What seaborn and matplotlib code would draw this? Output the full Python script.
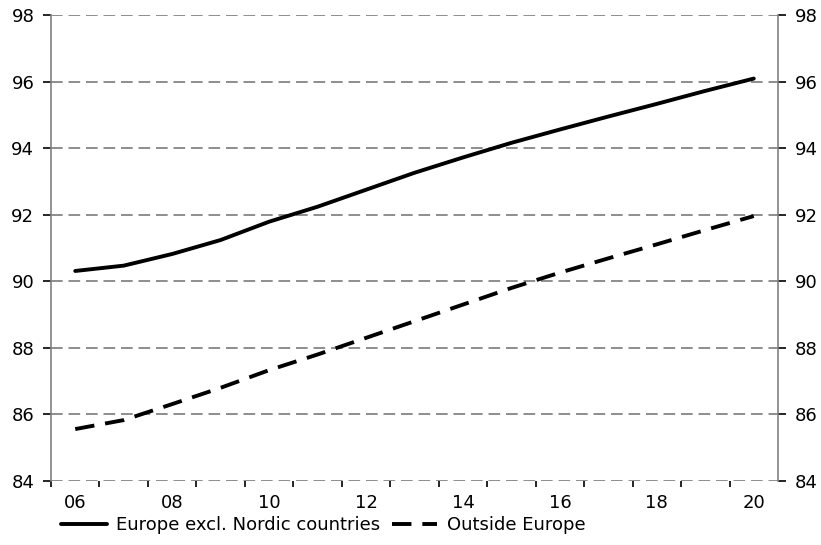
import matplotlib
matplotlib.use("Agg")
import matplotlib.pyplot as plt
import seaborn as sns
import pandas as pd
from matplotlib.lines import Line2D

years = list(range(2006, 2021))
europe_excl_nordic = [90.31, 90.47, 90.82, 91.24, 91.79, 92.24, 92.75, 93.26, 93.72,
                      94.16, 94.56, 94.95, 95.33, 95.72, 96.09]
outside_europe = [85.56, 85.83, 86.31, 86.80, 87.33, 87.80, 88.30, 88.80, 89.30,
                  89.80, 90.26, 90.69, 91.11, 91.54, 91.96]
series_names = ["Europe excl. Nordic countries", "Outside Europe"]
y_ticks = [84, 86, 88, 90, 92, 94, 96, 98]
x_label_years = [2006, 2008, 2010, 2012, 2014, 2016, 2018, 2020]

df = pd.DataFrame({
    "year": years * 2,
    "value": europe_excl_nordic + outside_europe,
    "series": [series_names[0]] * len(years) + [series_names[1]] * len(years),
})

sns.set_theme(style="ticks")
plt.rcParams["font.family"] = ["DejaVu Sans"]
plt.rcParams["text.color"] = "black"
plt.rcParams["xtick.color"] = "black"
plt.rcParams["ytick.color"] = "black"

FS = 13
LW = 2.8
DASH = (5, 2.8)

fig = plt.figure(figsize=(8.21, 5.45), dpi=100)
ax = fig.add_axes([51 / 821, 1 - 481 / 545, 727 / 821, 466 / 545])

sns.lineplot(data=df, x="year", y="value", hue="series", style="series",
             palette=["black", "black"], dashes=[(None, None), DASH],
             linewidth=LW, ax=ax, legend=False)

ax.set_xlim(2005.5, 2020.5)
ax.set_ylim(84, 98)
ax.set_xlabel("")
ax.set_ylabel("")

ax.set_yticks(y_ticks)
ax.set_yticklabels([str(v) for v in y_ticks])
ax.yaxis.grid(True, color="#7a7a7a", linestyle=(0, (7, 3.5)), linewidth=1.2)
ax.xaxis.grid(False)
ax.set_axisbelow(True)

ax.set_xticks(x_label_years)
ax.set_xticklabels([f"{y % 100:02d}" for y in x_label_years])
ax.set_xticks([y - 0.5 for y in years], minor=True)
ax.tick_params(axis="x", which="major", bottom=True, length=0, pad=9,
               labelsize=FS, labelcolor="black")
ax.tick_params(axis="x", which="minor", bottom=True, length=4.3, width=1.2,
               direction="out", color="black")
ax.tick_params(axis="y", which="major", length=6, width=1.2, direction="out",
               color="black", labelsize=FS, labelcolor="black", left=True, right=True,
               labelleft=True, labelright=True, pad=6)

for side in ["top", "bottom"]:
    ax.spines[side].set_visible(False)
for side in ["left", "right"]:
    ax.spines[side].set_visible(True)
    ax.spines[side].set_color("#808080")
    ax.spines[side].set_linewidth(1.2)

handles = [Line2D([], [], color="black", linewidth=LW),
           Line2D([], [], color="black", linewidth=LW, dashes=DASH)]
fig.legend(handles, series_names, loc="lower left", bbox_to_anchor=(0.055, -0.01),
           ncol=2, frameon=False, fontsize=FS, handlelength=2.5,
           columnspacing=0.65, handletextpad=0.55)

fig.savefig("out.png", dpi=100)
